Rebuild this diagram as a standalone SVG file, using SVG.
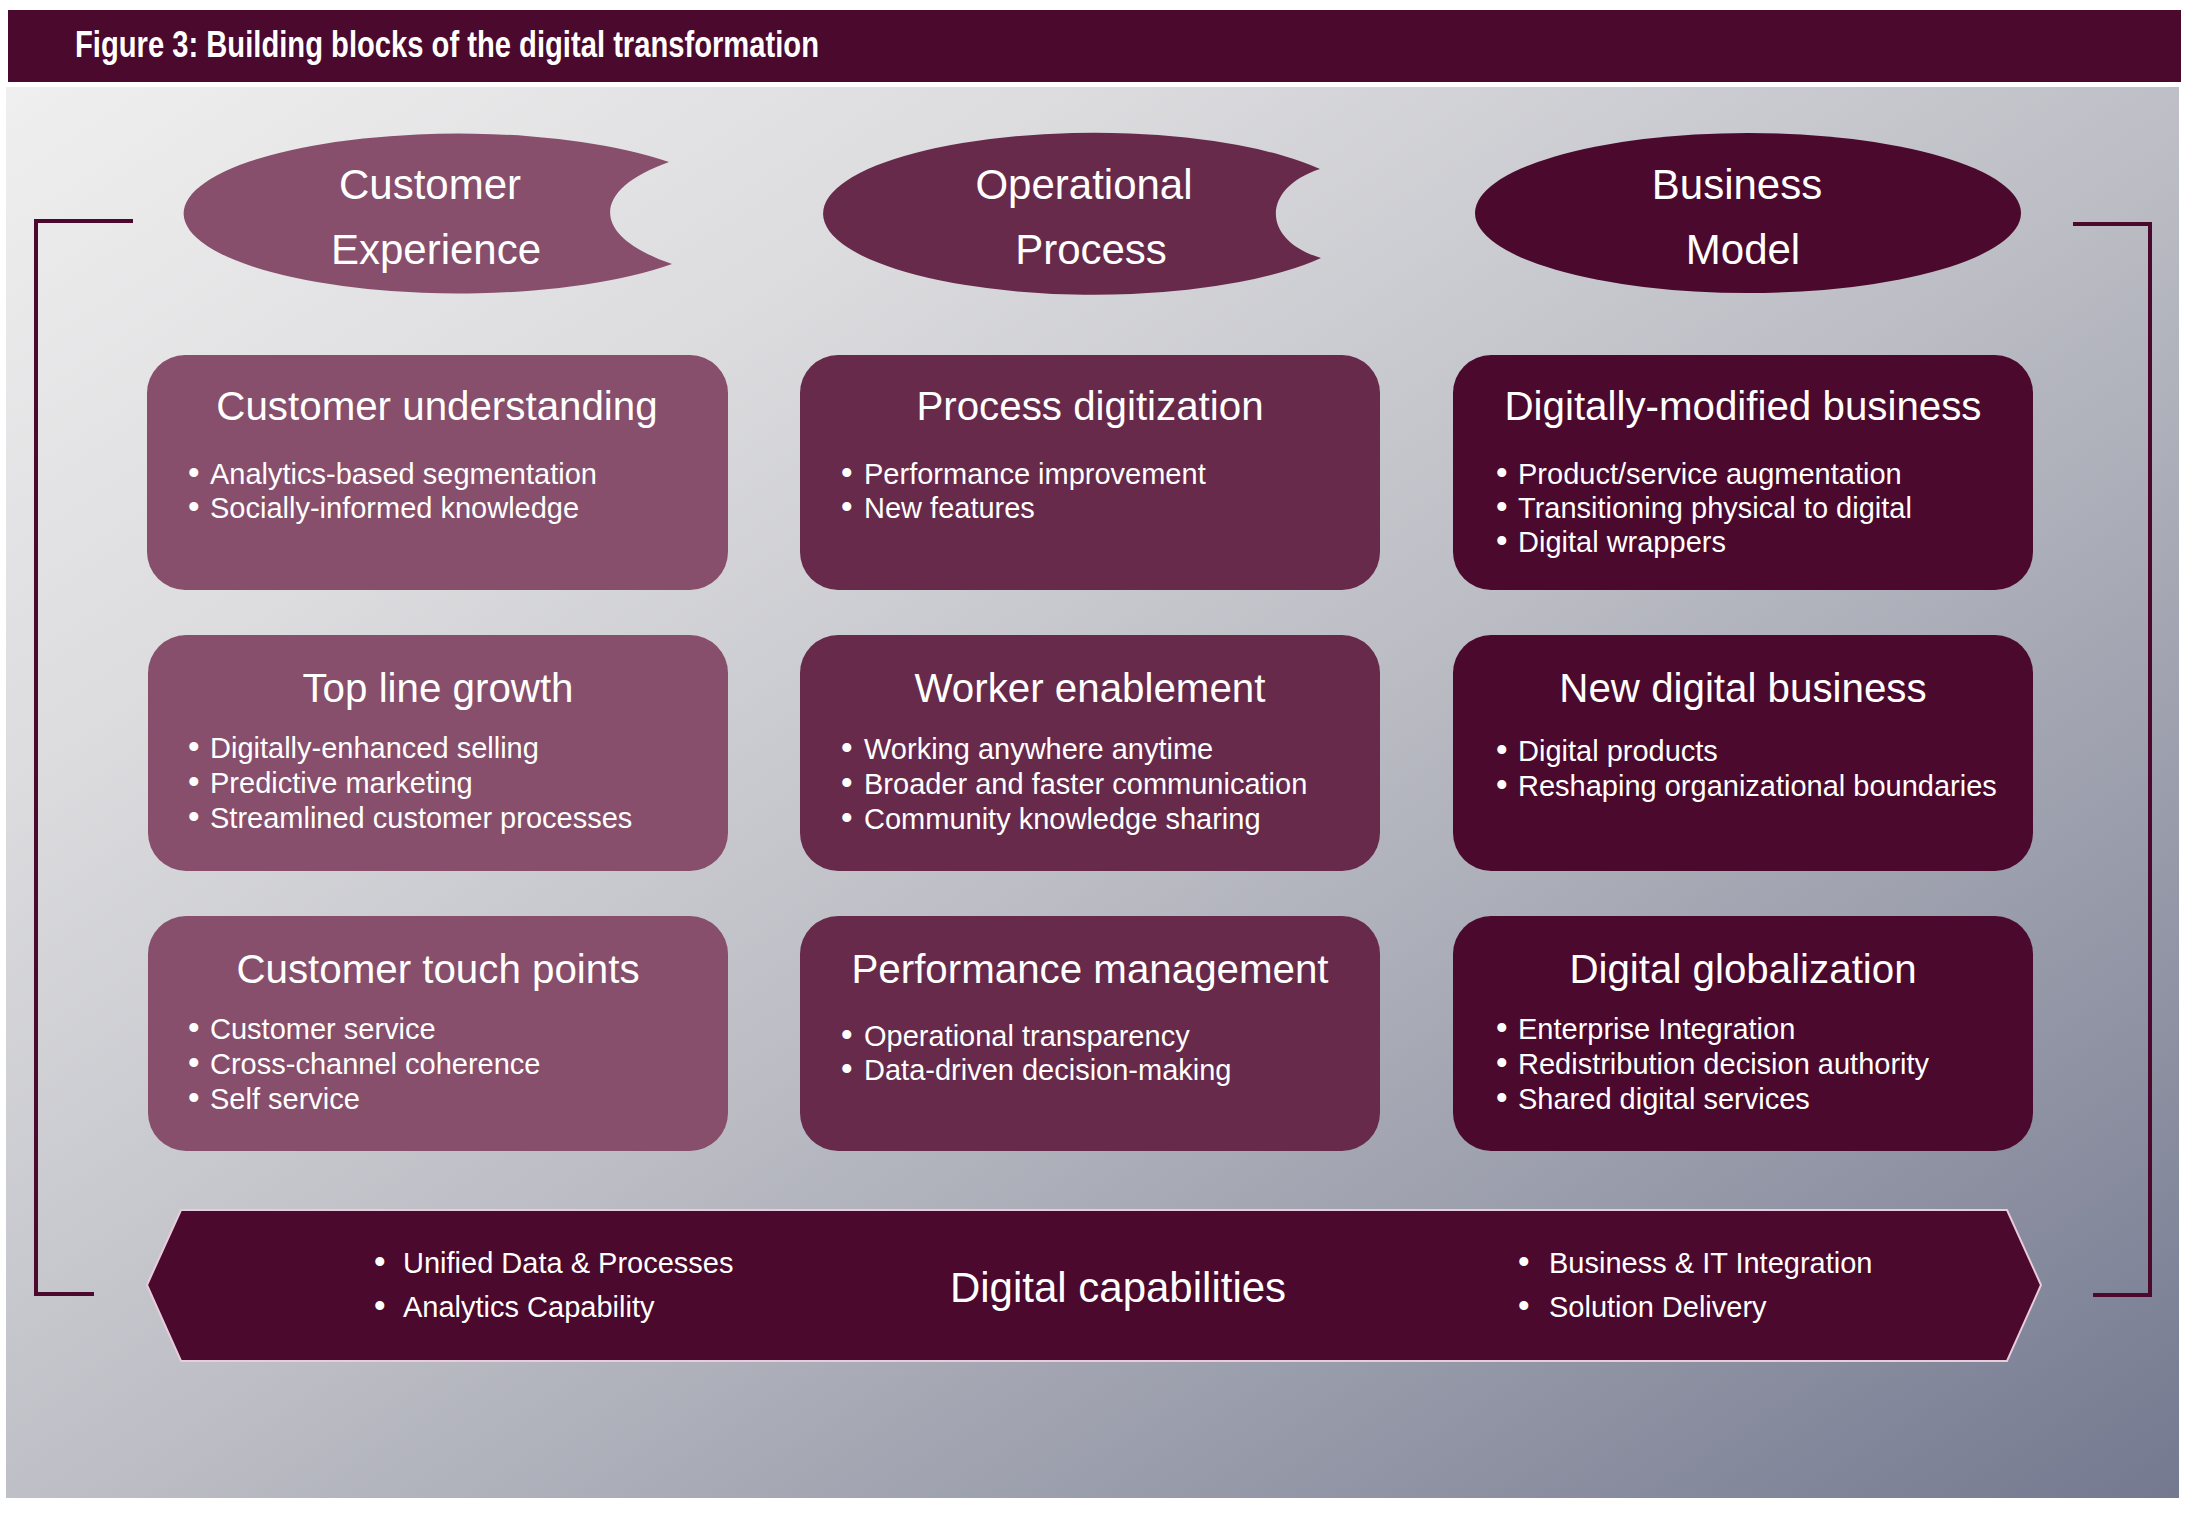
<svg xmlns="http://www.w3.org/2000/svg" width="2192" height="1514" viewBox="0 0 2192 1514">
<defs>
<linearGradient id="bg" x1="0" y1="0" x2="1" y2="1">
<stop offset="0" stop-color="#efefef"/>
<stop offset="0.25" stop-color="#dcdcdf"/>
<stop offset="0.5" stop-color="#bfc0c7"/>
<stop offset="0.75" stop-color="#9a9dab"/>
<stop offset="1" stop-color="#747990"/>
</linearGradient>
</defs>
<style>
.c1{fill:#874f6b}
.c2{fill:#682a4b}
.c3{fill:#4b092d}
.hd{font-family:"Liberation Sans",Arial,sans-serif;font-size:42px;fill:#ffffff;text-anchor:middle}
.ttl{font-family:"Liberation Sans",Arial,sans-serif;font-size:40.3px;fill:#ffffff;text-anchor:middle}
.bl{font-family:"Liberation Sans",Arial,sans-serif;font-size:29px;fill:#ffffff}
.bb{font-family:"Liberation Sans",Arial,sans-serif;font-size:29px;fill:#ffffff}
.dot{font-size:33px}
.brk{fill:none;stroke:#4b092d;stroke-width:4}
</style>
<rect x="0" y="0" width="2192" height="1514" fill="#ffffff"/>
<rect x="6" y="87" width="2173" height="1411" fill="url(#bg)"/>
<g id="title-bar">
<rect x="8" y="10" width="2173" height="72" fill="#4b092d"/>
<text x="75" y="57" font-family="'Liberation Sans',Arial,sans-serif" font-size="37" font-weight="bold" fill="#ffffff" textLength="744" lengthAdjust="spacingAndGlyphs">Figure 3: Building blocks of the digital transformation</text>
</g>
<g id="connectors">
<path class="brk" d="M133,221 H36 V1294 H94"/>
<path class="brk" d="M2073,224 H2150 V1295 H2093"/>
</g>
<g id="hdr-customer-experience">
<path class="c1" d="M669,162 A275,80 0 1 0 672,264 C590,236 590,190 669,162 Z"/>
<text class="hd" x="430" y="199">Customer</text>
<text class="hd" x="436" y="264">Experience</text>
</g>
<g id="hdr-operational-process">
<path class="c2" d="M1320,169 A271,81 0 1 0 1321,258 C1261,240 1261,188 1320,169 Z"/>
<text class="hd" x="1084" y="199">Operational</text>
<text class="hd" x="1091" y="264">Process</text>
</g>
<g id="hdr-business-model">
<ellipse class="c3" cx="1748" cy="213" rx="273" ry="80"/>
<text class="hd" x="1737" y="199">Business</text>
<text class="hd" x="1743" y="264">Model</text>
</g>
<g id="customer-understanding">
<rect class="c1" x="147" y="355" width="581" height="235" rx="38"/>
<text class="ttl" x="437" y="420">Customer understanding</text>
<text class="bl"><tspan class="dot" x="188" y="484">•</tspan><tspan x="210" y="484">Analytics-based segmentation</tspan></text>
<text class="bl"><tspan class="dot" x="188" y="518">•</tspan><tspan x="210" y="518">Socially-informed knowledge</tspan></text>
</g>
<g id="process-digitization">
<rect class="c2" x="800" y="355" width="580" height="235" rx="38"/>
<text class="ttl" x="1090" y="420">Process digitization</text>
<text class="bl"><tspan class="dot" x="841" y="484">•</tspan><tspan x="864" y="484">Performance improvement</tspan></text>
<text class="bl"><tspan class="dot" x="841" y="518">•</tspan><tspan x="864" y="518">New features</tspan></text>
</g>
<g id="digitally-modified-business">
<rect class="c3" x="1453" y="355" width="580" height="235" rx="38"/>
<text class="ttl" x="1743" y="420">Digitally-modified business</text>
<text class="bl"><tspan class="dot" x="1496" y="484">•</tspan><tspan x="1518" y="484">Product/service augmentation</tspan></text>
<text class="bl"><tspan class="dot" x="1496" y="518">•</tspan><tspan x="1518" y="518">Transitioning physical to digital</tspan></text>
<text class="bl"><tspan class="dot" x="1496" y="552">•</tspan><tspan x="1518" y="552">Digital wrappers</tspan></text>
</g>
<g id="top-line-growth">
<rect class="c1" x="148" y="635" width="580" height="236" rx="38"/>
<text class="ttl" x="438" y="702">Top line growth</text>
<text class="bl"><tspan class="dot" x="188" y="758">•</tspan><tspan x="210" y="758">Digitally-enhanced selling</tspan></text>
<text class="bl"><tspan class="dot" x="188" y="793">•</tspan><tspan x="210" y="793">Predictive marketing</tspan></text>
<text class="bl"><tspan class="dot" x="188" y="828">•</tspan><tspan x="210" y="828">Streamlined customer processes</tspan></text>
</g>
<g id="worker-enablement">
<rect class="c2" x="800" y="635" width="580" height="236" rx="38"/>
<text class="ttl" x="1090" y="702">Worker enablement</text>
<text class="bl"><tspan class="dot" x="841" y="759">•</tspan><tspan x="864" y="759">Working anywhere anytime</tspan></text>
<text class="bl"><tspan class="dot" x="841" y="794">•</tspan><tspan x="864" y="794">Broader and faster communication</tspan></text>
<text class="bl"><tspan class="dot" x="841" y="829">•</tspan><tspan x="864" y="829">Community knowledge sharing</tspan></text>
</g>
<g id="new-digital-business">
<rect class="c3" x="1453" y="635" width="580" height="236" rx="38"/>
<text class="ttl" x="1743" y="702">New digital business</text>
<text class="bl"><tspan class="dot" x="1496" y="761">•</tspan><tspan x="1518" y="761">Digital products</tspan></text>
<text class="bl"><tspan class="dot" x="1496" y="796">•</tspan><tspan x="1518" y="796">Reshaping organizational boundaries</tspan></text>
</g>
<g id="customer-touch-points">
<rect class="c1" x="148" y="916" width="580" height="235" rx="38"/>
<text class="ttl" x="438" y="983">Customer touch points</text>
<text class="bl"><tspan class="dot" x="188" y="1039">•</tspan><tspan x="210" y="1039">Customer service</tspan></text>
<text class="bl"><tspan class="dot" x="188" y="1074">•</tspan><tspan x="210" y="1074">Cross-channel coherence</tspan></text>
<text class="bl"><tspan class="dot" x="188" y="1109">•</tspan><tspan x="210" y="1109">Self service</tspan></text>
</g>
<g id="performance-management">
<rect class="c2" x="800" y="916" width="580" height="235" rx="38"/>
<text class="ttl" x="1090" y="983">Performance management</text>
<text class="bl"><tspan class="dot" x="841" y="1046">•</tspan><tspan x="864" y="1046">Operational transparency</tspan></text>
<text class="bl"><tspan class="dot" x="841" y="1080">•</tspan><tspan x="864" y="1080">Data-driven decision-making</tspan></text>
</g>
<g id="digital-globalization">
<rect class="c3" x="1453" y="916" width="580" height="235" rx="38"/>
<text class="ttl" x="1743" y="983">Digital globalization</text>
<text class="bl"><tspan class="dot" x="1496" y="1039">•</tspan><tspan x="1518" y="1039">Enterprise Integration</tspan></text>
<text class="bl"><tspan class="dot" x="1496" y="1074">•</tspan><tspan x="1518" y="1074">Redistribution decision authority</tspan></text>
<text class="bl"><tspan class="dot" x="1496" y="1109">•</tspan><tspan x="1518" y="1109">Shared digital services</tspan></text>
</g>
<g id="digital-capabilities">
<polygon class="c3" points="181,1210 2007,1210 2041,1285 2007,1361 181,1361 147,1285" stroke="#e8cbdc" stroke-width="2"/>
<text class="hd" x="1118" y="1302">Digital capabilities</text>
<text class="bb"><tspan class="dot" x="374" y="1273">•</tspan><tspan x="403" y="1273">Unified Data &amp; Processes</tspan></text>
<text class="bb"><tspan class="dot" x="374" y="1317">•</tspan><tspan x="403" y="1317">Analytics Capability</tspan></text>
<text class="bb"><tspan class="dot" x="1518" y="1273">•</tspan><tspan x="1549" y="1273">Business &amp; IT Integration</tspan></text>
<text class="bb"><tspan class="dot" x="1518" y="1317">•</tspan><tspan x="1549" y="1317">Solution Delivery</tspan></text>
</g>
</svg>
